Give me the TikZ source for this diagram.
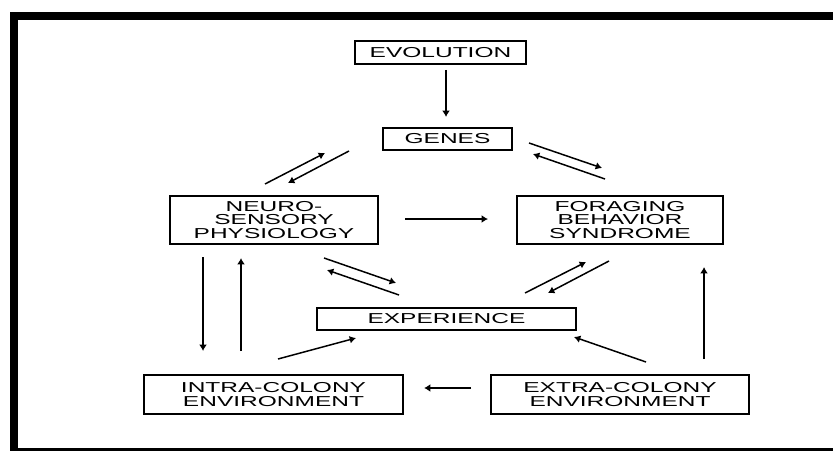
\documentclass[tikz,border=0pt]{standalone}
\usepackage{fontspec}
\setmainfont{Liberation Sans}[FakeStretch=1.7]
\usetikzlibrary{arrows.meta}
\tikzset{factor/.style={draw,line width=0.7pt,inner sep=0pt,align=center,font=\fontsize{8.2}{7.6}\selectfont},
         link/.style={line width=0.85pt,-{Latex[length=3.6pt,width=4.4pt]}},
        }

\begin{document}
\begin{tikzpicture}
        \useasboundingbox (0,0) rectangle (16.66,9);
        \clip (0,0) rectangle (16.66,9);
        \draw[line width=0.16cm] (0.28,-0.04) rectangle (17.5,8.68);

        \node[factor,minimum width=3.42cm,minimum height=0.46cm](evo)at(8.81,7.95){EVOLUTION};
        \node[factor,minimum width=2.58cm,minimum height=0.44cm](genes)at(8.95,6.22){GENES};
        \node[factor,minimum width=4.16cm,minimum height=0.96cm](neuro)at(5.48,4.60){NEURO-\\SENSORY\\PHYSIOLOGY};
        \node[factor,minimum width=4.12cm,minimum height=0.96cm](forag)at(12.40,4.60){FORAGING\\BEHAVIOR\\SYNDROME};
        \node[factor,minimum width=5.18cm,minimum height=0.44cm](exper)at(8.93,2.62){EXPERIENCE};
        \node[factor,minimum width=5.18cm,minimum height=0.78cm](intra)at(5.47,1.11){INTRA-COLONY\\ENVIRONMENT};
        \node[factor,minimum width=5.16cm,minimum height=0.78cm](extra)at(12.40,1.11){EXTRA-COLONY\\ENVIRONMENT};

        \coordinate(eg1)at(8.92,7.60); \coordinate(eg2)at(8.92,6.66);
        \coordinate(ng1)at(5.30,5.32); \coordinate(ng2)at(6.50,5.94);
        \coordinate(gn1)at(6.98,5.98); \coordinate(gn2)at(5.76,5.34);
        \coordinate(gf1)at(10.58,6.14); \coordinate(gf2)at(12.04,5.64);
        \coordinate(fg1)at(12.10,5.42); \coordinate(fg2)at(10.66,5.92);
        \coordinate(nf1)at(8.10,4.62); \coordinate(nf2)at(9.76,4.62);
        \coordinate(ne1)at(6.48,3.84); \coordinate(ne2)at(7.92,3.34);
        \coordinate(en1)at(7.98,3.10); \coordinate(en2)at(6.54,3.60);
        \coordinate(ef1)at(10.50,3.14); \coordinate(ef2)at(11.72,3.76);
        \coordinate(fe1)at(12.18,3.78); \coordinate(fe2)at(10.96,3.14);
        \coordinate(ni1)at(4.06,3.86); \coordinate(ni2)at(4.06,1.98);
        \coordinate(in1)at(4.82,1.98); \coordinate(in2)at(4.82,3.84);
        \coordinate(ie1)at(5.56,1.82); \coordinate(ie2)at(7.12,2.24);
        \coordinate(xi1)at(9.42,1.24); \coordinate(xi2)at(8.48,1.24);
        \coordinate(xe1)at(12.92,1.76); \coordinate(xe2)at(11.48,2.26);
        \coordinate(xf1)at(14.08,1.82); \coordinate(xf2)at(14.08,3.66);

        \draw[link](eg1)--(eg2);
        \draw[link](ng1)--(ng2);
        \draw[link](gn1)--(gn2);
        \draw[link](gf1)--(gf2);
        \draw[link](fg1)--(fg2);
        \draw[link](nf1)--(nf2);
        \draw[link](ne1)--(ne2);
        \draw[link](en1)--(en2);
        \draw[link](ef1)--(ef2);
        \draw[link](fe1)--(fe2);
        \draw[link](ni1)--(ni2);
        \draw[link](in1)--(in2);
        \draw[link](ie1)--(ie2);
        \draw[link](xi1)--(xi2);
        \draw[link](xe1)--(xe2);
        \draw[link](xf1)--(xf2);
\end{tikzpicture}
\end{document}
